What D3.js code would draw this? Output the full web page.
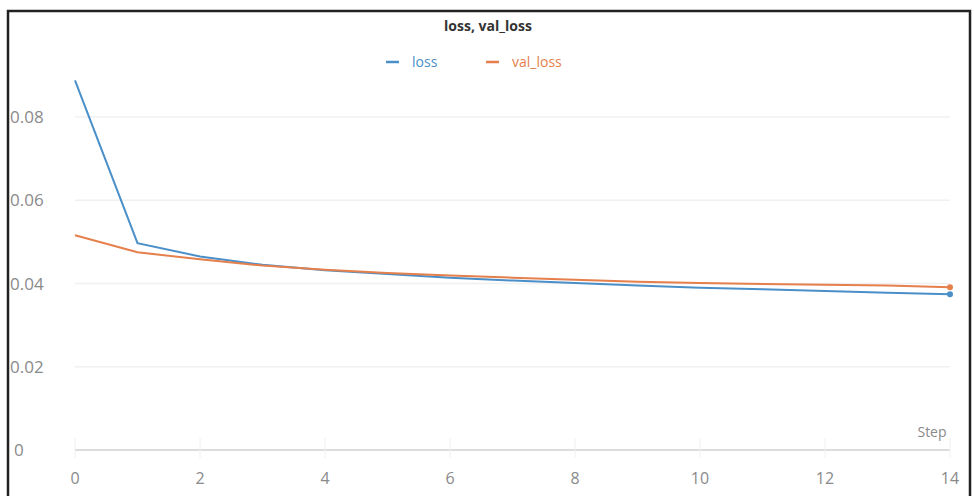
<!DOCTYPE html>
<html><head><meta charset="utf-8">
<script src="https://cdn.jsdelivr.net/npm/d3@7"></script>
<style>body{margin:0;background:#fff}svg{display:block;font-family:"Open Sans",sans-serif}</style>
</head><body><svg id="c" width="974" height="496"></svg>
<script>
const steps = [0,1,2,3,4,5,6,7,8,9,10,11,12,13,14];
const loss = [0.0888,0.0497,0.0465,0.0445,0.0432,0.0423,0.0414,0.0407,0.0401,0.0395,0.0390,0.0386,0.0382,0.0378,0.0374];
const valLoss = [0.0516,0.0475,0.0458,0.0443,0.0433,0.0425,0.0419,0.0414,0.0409,0.0404,0.0401,0.0399,0.0397,0.0395,0.0391];
const xTicks = [0,2,4,6,8,10,12,14];
const yTicks = [0,0.02,0.04,0.06,0.08];
const seriesNames = ["loss","val_loss"];
const colors = ["#4a8fc8","#e57f4c"];

const svg = d3.select("#c");
const x = d3.scaleLinear().domain([0,14]).range([75,950]);
const y = d3.scaleLinear().domain([0,0.08]).range([450,117]);

// frame
svg.append("path").attr("d","M8,500 V11 H970 V500").attr("fill","none").attr("stroke","#222").attr("stroke-width",2.5);

// grid
svg.append("g").selectAll("line").data(yTicks.filter(d=>d>0)).join("line")
  .attr("x1",x(0)).attr("x2",x(14)).attr("y1",d=>y(d)).attr("y2",d=>y(d))
  .attr("stroke","#f0f0f0").attr("stroke-width",1.5);
// y labels
svg.append("g").selectAll("text").data(yTicks).join("text")
  .attr("x",d=>d===0?14:10).attr("y",d=>y(d)+6).attr("fill","#8a8a8a").attr("font-size",17)
  .text(d=>d===0?"0":d3.format(".2f")(d));

// x axis
svg.append("line").attr("x1",x(0)).attr("x2",x(14)).attr("y1",y(0)).attr("y2",y(0))
  .attr("stroke","#dcdcdc").attr("stroke-width",2);
svg.append("g").selectAll("line").data(xTicks).join("line")
  .attr("x1",d=>x(d)).attr("x2",d=>x(d)).attr("y1",y(0)-12).attr("y2",y(0)+8)
  .attr("stroke","#f0f0f0").attr("stroke-width",1);
svg.append("g").selectAll("text").data(xTicks).join("text")
  .attr("x",d=>x(d)).attr("y",484).attr("text-anchor","middle").attr("fill","#8a8a8a").attr("font-size",16)
  .text(d=>d);
svg.append("text").attr("x",932).attr("y",437).attr("text-anchor","middle").attr("fill","#8a8a8a").attr("font-size",14).text("Step");

// lines
const data = [loss, valLoss];
const line = d3.line().x((d,i)=>x(steps[i])).y(d=>y(d));
data.forEach((s,k)=>{
  svg.append("path").attr("d",line(s)).attr("fill","none").attr("stroke",colors[k]).attr("stroke-width",2);
  svg.append("circle").attr("cx",x(steps[steps.length-1])).attr("cy",y(s[s.length-1])).attr("r",3).attr("fill",colors[k]);
});

// title
svg.append("text").attr("x",488).attr("y",31).attr("text-anchor","middle").attr("font-weight","bold").attr("font-size",14).attr("fill","#333").text("loss, val_loss");

// legend
const lx = [386, 486];
seriesNames.forEach((n,k)=>{
  svg.append("line").attr("x1",lx[k]).attr("x2",lx[k]+13).attr("y1",62).attr("y2",62).attr("stroke",colors[k]).attr("stroke-width",2.5);
  svg.append("text").attr("x",lx[k]+26).attr("y",67).attr("fill",colors[k]).attr("font-size",14).text(n);
});
</script></body></html>
